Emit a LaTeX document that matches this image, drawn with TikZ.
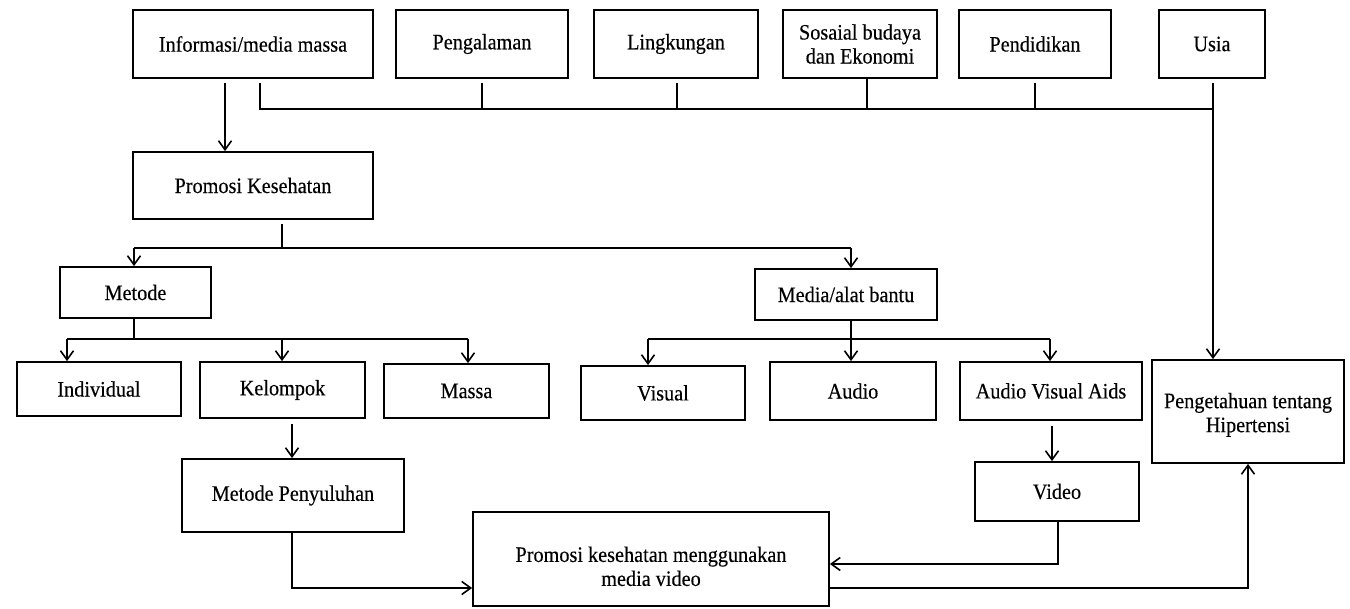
\documentclass[tikz,border=0pt]{standalone}
\usepackage{fontspec}
\setmainfont{Liberation Serif}[FakeStretch=0.92,FakeBold=0.3]
\usetikzlibrary{arrows.meta}
\begin{document}
\begin{tikzpicture}[x=1pt,y=-1pt,
  line width=1.6pt,
  box/.style={draw, line width=1.8pt, inner sep=0pt, align=center,
    font=\fontsize{22}{24}\selectfont},
  arr/.style={-{Straight Barb[length=9pt,width=13pt,line width=1.6pt]}}]
\useasboundingbox[fill=white] (0,0) rectangle (1350,609);
% top row
\node[box, minimum width=240, minimum height=68] (inf)  at (253,44)    {Informasi/media massa};
\node[box, minimum width=172, minimum height=68] (pen)  at (482,44)    {Pengalaman};
\node[box, minimum width=164, minimum height=68] (lin)  at (676,44)    {Lingkungan};
\node[box, minimum width=154, minimum height=68] (sos)  at (860,44)    {Sosaial budaya\\dan Ekonomi};
\node[box, minimum width=152, minimum height=68] (pdd)  at (1035,44)   {Pendidikan};
\node[box, minimum width=106, minimum height=68] (usia) at (1212,44)   {Usia};
% second level
\node[box, minimum width=240, minimum height=67] (pk)   at (253,185.5) {Promosi Kesehatan};
\node[box, minimum width=151, minimum height=51] (met)  at (135.5,292.5) {Metode};
\node[box, minimum width=182, minimum height=51] (med)  at (846,294.5) {Media/alat bantu};
% third level
\node[box, minimum width=164, minimum height=54] (ind)  at (99,389)    {Individual};
\node[box, minimum width=165, minimum height=56] (kel)  at (282.5,390) {Kelompok};
\node[box, minimum width=165, minimum height=54] (mas)  at (466.5,391) {Massa};
\node[box, minimum width=164, minimum height=54] (vis)  at (663,393)   {Visual};
\node[box, minimum width=166, minimum height=58] (aud)  at (853,391)   {Audio};
\node[box, minimum width=182, minimum height=58] (ava)  at (1051,391)  {Audio Visual Aids};
\node[box, minimum width=192, minimum height=103] (pgh) at (1248,411.5) {\rule{0pt}{22pt}Pengetahuan tentang\\Hipertensi};
% bottom
\node[box, minimum width=222, minimum height=73] (mp)   at (293,495.5) {Metode Penyuluhan};
\node[box, minimum width=164, minimum height=59] (vid)  at (1057,491.5) {Video};
\node[box, minimum width=356, minimum height=94] (pv)   at (651,559) {\rule{0pt}{30pt}Promosi kesehatan menggunakan\\media video};
% bus of factors
\draw (inf.south -| 260,0) ++(0,4) |- (1213,109);
\draw (pen.south -| 482,0) ++(0,4) -- (482,109);
\draw (lin.south -| 677,0) ++(0,4) -- (677,109);
\draw (sos.south -| 867,0) -- (867,109);
\draw (pdd.south -| 1035,0) ++(0,4) -- (1035,109);
\draw[arr] (usia.south -| 1213,0) ++(0,4) -- (pgh.north -| 1213,0);
% informasi -> promosi
\draw[arr] (inf.south -| 225,0) ++(0,4) -- (pk.north -| 225,0);
% promosi split
\draw (pk.south -| 282,0) ++(0,4) -- (282,248);
\draw (134,248) -- (851,248);
\draw[arr] (134,248) -- (met.north -| 134,0);
\draw[arr] (851,248) -- (med.north -| 851,0);
% metode split
\draw (met.south -| 134,0) -- (134,339);
\draw (67,339) -- (468,339);
\draw[arr] (67,339) -- (ind.north -| 67,0);
\draw[arr] (282,339) -- (kel.north -| 282,0);
\draw[arr] (468,339) -- (mas.north -| 468,0);
% media split
\draw (med.south -| 851,0) -- (851,339);
\draw (648,339) -- (1050,339);
\draw[arr] (648,339) -- (vis.north -| 648,0);
\draw[arr] (851,339) -- (aud.north -| 851,0);
\draw[arr] (1050,339) -- (ava.north -| 1050,0);
% kelompok -> metode penyuluhan, ava -> video
\draw[arr] (kel.south -| 292,0) ++(0,5) -- (mp.north -| 292,0);
\draw[arr] (ava.south -| 1052,0) ++(0,5) -- (vid.north -| 1052,0);
% to promosi media video
\draw[arr] (mp.south -| 292,0) |- (pv.west |- 0,588);
\draw[arr] (vid.south -| 1058,0) |- (pv.east |- 0,564);
% to pengetahuan
\draw[arr] (pv.east |- 0,588) -| (pgh.south);
\end{tikzpicture}
\end{document}
